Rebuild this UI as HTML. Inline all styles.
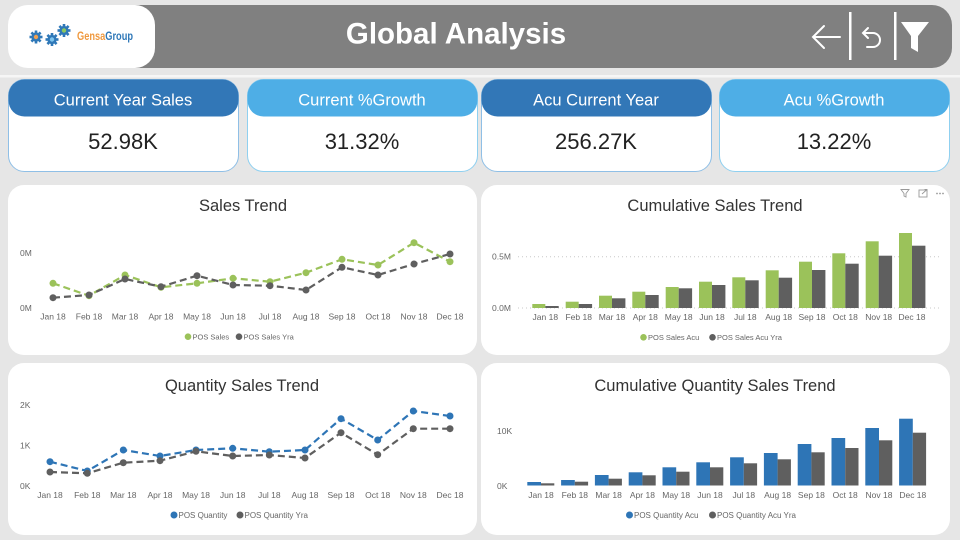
<!DOCTYPE html>
<html><head><meta charset="utf-8"><style>
html,body{margin:0;padding:0;background:#e6e6e6;}
svg{display:block;font-family:"Liberation Sans",sans-serif;}
</style></head><body>
<svg width="960" height="540" viewBox="0 0 960 540" xmlns="http://www.w3.org/2000/svg">
<defs>
 <g id="gear">
  <circle r="4.6" fill="#2f78b8"/>
  <g fill="#2f78b8">
   <rect x="-1.3" y="-6.5" width="2.6" height="3"/>
   <rect x="-1.3" y="3.5" width="2.6" height="3"/>
   <rect x="-6.5" y="-1.3" width="3" height="2.6"/>
   <rect x="3.5" y="-1.3" width="3" height="2.6"/>
   <g transform="rotate(45)">
    <rect x="-1.3" y="-6.5" width="2.6" height="3"/>
    <rect x="-1.3" y="3.5" width="2.6" height="3"/>
    <rect x="-6.5" y="-1.3" width="3" height="2.6"/>
    <rect x="3.5" y="-1.3" width="3" height="2.6"/>
   </g>
  </g>
 </g>
</defs>
<rect width="960" height="540" fill="#e6e6e6"/>
<!-- header -->
<path d="M120 5 H932 a20 20 0 0 1 20 20 V48 a20 20 0 0 1 -20 20 H120 Z" fill="#808080"/>
<rect x="8" y="5" width="147" height="63" rx="20" fill="#ffffff"/>
<rect x="0" y="75" width="960" height="2.5" fill="#f6f6f6"/>
<!-- logo gears -->
<use href="#gear" x="36" y="37"/><circle cx="36" cy="37" r="2.2" fill="#f0a050"/>
<use href="#gear" x="52" y="39.5"/><circle cx="52" cy="39.5" r="2.2" fill="#7cc4ee"/>
<use href="#gear" x="64" y="30.5"/><circle cx="64" cy="30.5" r="2.2" fill="#8cc860"/>
<text x="77" y="40" font-family="'Liberation Sans Narrow','Liberation Sans',sans-serif" font-weight="bold" font-size="12" textLength="56" lengthAdjust="spacingAndGlyphs"><tspan fill="#f09a40">Gensa</tspan><tspan fill="#2f78b8">Group</tspan></text>
<text x="456" y="43.5" text-anchor="middle" fill="#ffffff" font-weight="bold" font-size="29.5">Global Analysis</text>
<!-- header icons -->
<g stroke="#ffffff" stroke-width="2" fill="none" stroke-linecap="round">
 <path d="M840 37 H813 M824 26 L813 37 L824 48"/>
 <path d="M864 33 H873 a7 7 0 0 1 0 14 H867"/>
 <path d="M868 28 L863 33 L868 38"/>
</g>
<rect x="849" y="12" width="2.5" height="48" fill="#ffffff"/>
<rect x="894" y="12" width="2.5" height="48" fill="#ffffff"/>
<path d="M901 22 H929 L918 36 V52 L911 48 V36 Z" fill="#ffffff"/>

<!-- KPI cards -->
<g font-size="16.5">
 <rect x="8.5" y="79.5" width="230" height="92" rx="16" fill="#fff" stroke="#8fbfe6"/>
 <rect x="8.5" y="79.5" width="230" height="37" rx="16" fill="#3277b7"/>
 <text x="123" y="105.5" text-anchor="middle" fill="#fff">Current Year Sales</text>
 <text x="123" y="149" text-anchor="middle" fill="#222" font-size="22">52.98K</text>

 <rect x="247.5" y="79.5" width="230" height="92" rx="16" fill="#fff" stroke="#8fd0f0"/>
 <rect x="247.5" y="79.5" width="230" height="37" rx="16" fill="#4eaee6"/>
 <text x="362" y="105.5" text-anchor="middle" fill="#fff">Current %Growth</text>
 <text x="362" y="149" text-anchor="middle" fill="#222" font-size="22">31.32%</text>

 <rect x="481.5" y="79.5" width="230" height="92" rx="16" fill="#fff" stroke="#8fbfe6"/>
 <rect x="481.5" y="79.5" width="230" height="37" rx="16" fill="#3277b7"/>
 <text x="596" y="105.5" text-anchor="middle" fill="#fff">Acu Current Year</text>
 <text x="596" y="149" text-anchor="middle" fill="#222" font-size="22">256.27K</text>

 <rect x="719.5" y="79.5" width="230" height="92" rx="16" fill="#fff" stroke="#8fd0f0"/>
 <rect x="719.5" y="79.5" width="230" height="37" rx="16" fill="#4eaee6"/>
 <text x="834" y="105.5" text-anchor="middle" fill="#fff">Acu %Growth</text>
 <text x="834" y="149" text-anchor="middle" fill="#222" font-size="22">13.22%</text>
</g>

<!-- panels -->
<rect x="8" y="185" width="469" height="170" rx="16" fill="#fff"/>
<rect x="481" y="185" width="469" height="170" rx="16" fill="#fff"/>
<rect x="8" y="363" width="469" height="172" rx="16" fill="#fff"/>
<rect x="481" y="363" width="469" height="172" rx="16" fill="#fff"/>

<g font-size="16.5" fill="#333" text-anchor="middle">
 <text x="243" y="211">Sales Trend</text>
 <text x="715" y="211">Cumulative Sales Trend</text>
 <text x="242" y="391">Quantity Sales Trend</text>
 <text x="715" y="391">Cumulative Quantity Sales Trend</text>
</g>

<!-- panel icons -->
<g stroke="#999" stroke-width="0.9" fill="none">
 <path d="M901 189.5 H909 L906 193.5 V197 L904 196 V193.5 Z"/>
 <rect x="919" y="190" width="8" height="7"/>
 <path d="M922 194 L927 189.5 M924.5 189.5 H927 V192"/>
</g>
<g fill="#999"><circle cx="937" cy="193.5" r="0.9"/><circle cx="940" cy="193.5" r="0.9"/><circle cx="943" cy="193.5" r="0.9"/></g>

<!-- Sales Trend -->
<g font-size="8.5" fill="#666">
 <text x="20" y="256">0M</text>
 <text x="20" y="311">0M</text>
 <g text-anchor="middle">
  <text x="53" y="319.5">Jan 18</text><text x="89" y="319.5">Feb 18</text><text x="125" y="319.5">Mar 18</text><text x="161" y="319.5">Apr 18</text><text x="197" y="319.5">May 18</text><text x="233" y="319.5">Jun 18</text><text x="270" y="319.5">Jul 18</text><text x="306" y="319.5">Aug 18</text><text x="342" y="319.5">Sep 18</text><text x="378" y="319.5">Oct 18</text><text x="414" y="319.5">Nov 18</text><text x="450" y="319.5">Dec 18</text>
 </g>
</g>
<polyline fill="none" stroke="#9bc25a" stroke-width="2.2" stroke-dasharray="7 4" points="53,283.3 89,295.7 125,275 161,287.3 197,283.3 233,278.3 270,281.7 306,272.7 342,259.3 378,265 414,242.7 450,261.7"/>
<polyline fill="none" stroke="#5f5f5f" stroke-width="2.2" stroke-dasharray="7 4" points="53,297.7 89,295 125,279 161,286.7 197,275.7 233,285 270,285.7 306,290 342,267.3 378,275 414,264 450,254"/>
<g fill="#9bc25a"><circle cx="53" cy="283.3" r="3.5"/><circle cx="89" cy="295.7" r="3.5"/><circle cx="125" cy="275" r="3.5"/><circle cx="161" cy="287.3" r="3.5"/><circle cx="197" cy="283.3" r="3.5"/><circle cx="233" cy="278.3" r="3.5"/><circle cx="270" cy="281.7" r="3.5"/><circle cx="306" cy="272.7" r="3.5"/><circle cx="342" cy="259.3" r="3.5"/><circle cx="378" cy="265" r="3.5"/><circle cx="414" cy="242.7" r="3.5"/><circle cx="450" cy="261.7" r="3.5"/></g>
<g fill="#5f5f5f"><circle cx="53" cy="297.7" r="3.5"/><circle cx="89" cy="295" r="3.5"/><circle cx="125" cy="279" r="3.5"/><circle cx="161" cy="286.7" r="3.5"/><circle cx="197" cy="275.7" r="3.5"/><circle cx="233" cy="285" r="3.5"/><circle cx="270" cy="285.7" r="3.5"/><circle cx="306" cy="290" r="3.5"/><circle cx="342" cy="267.3" r="3.5"/><circle cx="378" cy="275" r="3.5"/><circle cx="414" cy="264" r="3.5"/><circle cx="450" cy="254" r="3.5"/></g>
<circle cx="188" cy="336.7" r="3.3" fill="#9bc25a"/>
<circle cx="239" cy="336.7" r="3.3" fill="#5f5f5f"/>
<g font-size="7.5" fill="#666"><text x="192.5" y="339.5">POS Sales</text><text x="243.5" y="339.5">POS Sales Yra</text></g>

<!-- Cumulative Sales -->
<g stroke="#c8c8c8" stroke-width="1" stroke-dasharray="1 3">
 <line x1="518" y1="256.7" x2="940" y2="256.7"/>
 <line x1="518" y1="308" x2="940" y2="308"/>
</g>
<g font-size="8.5" fill="#666">
 <text x="492" y="259.5">0.5M</text>
 <text x="492" y="311">0.0M</text>
 <g text-anchor="middle">
  <text x="545.3" y="320">Jan 18</text><text x="578.7" y="320">Feb 18</text><text x="612" y="320">Mar 18</text><text x="645.3" y="320">Apr 18</text><text x="678.7" y="320">May 18</text><text x="712" y="320">Jun 18</text><text x="745.3" y="320">Jul 18</text><text x="778.7" y="320">Aug 18</text><text x="812" y="320">Sep 18</text><text x="845.3" y="320">Oct 18</text><text x="878.7" y="320">Nov 18</text><text x="912" y="320">Dec 18</text>
 </g>
</g>
<g fill="#9bc25a">
 <rect x="532.3" y="304" width="13" height="4"/><rect x="565.7" y="301.7" width="13" height="6.3"/><rect x="599" y="295.7" width="13" height="12.3"/><rect x="632.3" y="291.7" width="13" height="16.3"/><rect x="665.7" y="287" width="13" height="21"/><rect x="699" y="281.7" width="13" height="26.3"/><rect x="732.3" y="277.3" width="13" height="30.7"/><rect x="765.7" y="270.3" width="13" height="37.7"/><rect x="799" y="261.7" width="13" height="46.3"/><rect x="832.3" y="253.3" width="13" height="54.7"/><rect x="865.7" y="241.3" width="13" height="66.7"/><rect x="899" y="233" width="13" height="75"/>
</g>
<g fill="#5f5f5f">
 <rect x="545.3" y="306" width="13.4" height="2"/><rect x="578.7" y="304" width="13.4" height="4"/><rect x="612" y="298.3" width="13.4" height="9.7"/><rect x="645.3" y="295" width="13.4" height="13"/><rect x="678.7" y="288.3" width="13.4" height="19.7"/><rect x="712" y="285" width="13.4" height="23"/><rect x="745.3" y="280.3" width="13.4" height="27.7"/><rect x="778.7" y="277.7" width="13.4" height="30.3"/><rect x="812" y="270" width="13.4" height="38"/><rect x="845.3" y="263.7" width="13.4" height="44.3"/><rect x="878.7" y="255.7" width="13.4" height="52.3"/><rect x="912" y="245.7" width="13.4" height="62.3"/>
</g>
<circle cx="643.5" cy="337.3" r="3.3" fill="#9bc25a"/>
<circle cx="712.5" cy="337.3" r="3.3" fill="#5f5f5f"/>
<g font-size="7.5" fill="#666"><text x="648" y="340">POS Sales Acu</text><text x="717" y="340">POS Sales Acu Yra</text></g>

<!-- Quantity Sales Trend -->
<g font-size="8.5" fill="#666">
 <text x="20" y="408">2K</text>
 <text x="20" y="448.7">1K</text>
 <text x="20" y="489">0K</text>
 <g text-anchor="middle">
  <text x="50" y="498">Jan 18</text><text x="87.3" y="498">Feb 18</text><text x="123.3" y="498">Mar 18</text><text x="160" y="498">Apr 18</text><text x="196" y="498">May 18</text><text x="232.7" y="498">Jun 18</text><text x="269.3" y="498">Jul 18</text><text x="305" y="498">Aug 18</text><text x="341" y="498">Sep 18</text><text x="377.7" y="498">Oct 18</text><text x="413.3" y="498">Nov 18</text><text x="450" y="498">Dec 18</text>
 </g>
</g>
<polyline fill="none" stroke="#2e75b6" stroke-width="2.2" stroke-dasharray="7 4" points="50,461.7 87.3,471 123.3,450 160,456 196,450 232.7,448.3 269.3,451.7 305,450 341,418.7 377.7,440 413.3,411 450,416"/>
<polyline fill="none" stroke="#5f5f5f" stroke-width="2.2" stroke-dasharray="7 4" points="50,472 87.3,473.3 123.3,462.7 160,460.7 196,451.3 232.7,456 269.3,455 305,458 341,432.7 377.7,454.7 413.3,428.7 450,428.7"/>
<g fill="#2e75b6"><circle cx="50" cy="461.7" r="3.5"/><circle cx="87.3" cy="471" r="3.5"/><circle cx="123.3" cy="450" r="3.5"/><circle cx="160" cy="456" r="3.5"/><circle cx="196" cy="450" r="3.5"/><circle cx="232.7" cy="448.3" r="3.5"/><circle cx="269.3" cy="451.7" r="3.5"/><circle cx="305" cy="450" r="3.5"/><circle cx="341" cy="418.7" r="3.5"/><circle cx="377.7" cy="440" r="3.5"/><circle cx="413.3" cy="411" r="3.5"/><circle cx="450" cy="416" r="3.5"/></g>
<g fill="#5f5f5f"><circle cx="50" cy="472" r="3.5"/><circle cx="87.3" cy="473.3" r="3.5"/><circle cx="123.3" cy="462.7" r="3.5"/><circle cx="160" cy="460.7" r="3.5"/><circle cx="196" cy="451.3" r="3.5"/><circle cx="232.7" cy="456" r="3.5"/><circle cx="269.3" cy="455" r="3.5"/><circle cx="305" cy="458" r="3.5"/><circle cx="341" cy="432.7" r="3.5"/><circle cx="377.7" cy="454.7" r="3.5"/><circle cx="413.3" cy="428.7" r="3.5"/><circle cx="450" cy="428.7" r="3.5"/></g>
<circle cx="174" cy="515" r="3.5" fill="#2e75b6"/>
<circle cx="240" cy="515" r="3.5" fill="#5f5f5f"/>
<g font-size="8" fill="#666"><text x="178.5" y="518">POS Quantity</text><text x="244.5" y="518">POS Quantity Yra</text></g>

<!-- Cumulative Quantity -->
<g font-size="8.5" fill="#666">
 <text x="497" y="434">10K</text>
 <text x="497" y="489">0K</text>
 <g text-anchor="middle">
  <text x="541" y="498">Jan 18</text><text x="574.8" y="498">Feb 18</text><text x="608.6" y="498">Mar 18</text><text x="642.4" y="498">Apr 18</text><text x="676.2" y="498">May 18</text><text x="710" y="498">Jun 18</text><text x="743.8" y="498">Jul 18</text><text x="777.6" y="498">Aug 18</text><text x="811.4" y="498">Sep 18</text><text x="845.2" y="498">Oct 18</text><text x="879" y="498">Nov 18</text><text x="912.8" y="498">Dec 18</text>
 </g>
</g>
<g fill="#2e75b6">
 <rect x="527.3" y="482" width="13.7" height="3.5"/><rect x="561.1" y="480" width="13.7" height="5.5"/><rect x="594.9" y="475" width="13.7" height="10.5"/><rect x="628.7" y="472.3" width="13.7" height="13.2"/><rect x="662.5" y="467.3" width="13.7" height="18.2"/><rect x="696.3" y="462.3" width="13.7" height="23.2"/><rect x="730.1" y="457.3" width="13.7" height="28.2"/><rect x="763.9" y="453" width="13.7" height="32.5"/><rect x="797.7" y="444" width="13.7" height="41.5"/><rect x="831.5" y="438" width="13.7" height="47.5"/><rect x="865.3" y="428" width="13.7" height="57.5"/><rect x="899.1" y="418.7" width="13.7" height="66.8"/>
</g>
<g fill="#5f5f5f">
 <rect x="541" y="483.3" width="13.3" height="2.2"/><rect x="574.8" y="481.7" width="13.3" height="3.8"/><rect x="608.6" y="478.7" width="13.3" height="6.8"/><rect x="642.4" y="475.3" width="13.3" height="10.2"/><rect x="676.2" y="471.7" width="13.3" height="13.8"/><rect x="710" y="467.3" width="13.3" height="18.2"/><rect x="743.8" y="463.3" width="13.3" height="22.2"/><rect x="777.6" y="459.3" width="13.3" height="26.2"/><rect x="811.4" y="452.3" width="13.3" height="33.2"/><rect x="845.2" y="448" width="13.3" height="37.5"/><rect x="879" y="440.3" width="13.3" height="45.2"/><rect x="912.8" y="432.7" width="13.3" height="52.8"/>
</g>
<circle cx="629.5" cy="515" r="3.5" fill="#2e75b6"/>
<circle cx="712.5" cy="515" r="3.5" fill="#5f5f5f"/>
<g font-size="8" fill="#666"><text x="634" y="518">POS Quantity Acu</text><text x="717" y="518">POS Quantity Acu Yra</text></g>
</svg>
</body></html>
